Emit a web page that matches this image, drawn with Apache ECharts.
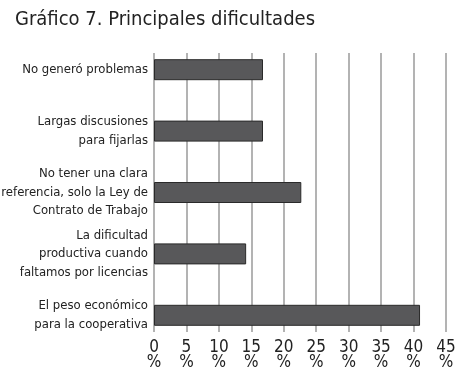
<!DOCTYPE html>
<html>
<head>
<meta charset="utf-8">
<script src="https://cdn.jsdelivr.net/npm/echarts@6/dist/echarts.min.js"></script>
<style>
  html, body { margin: 0; padding: 0; background: #fff; }
  #main { width: 475px; height: 376px; }
</style>
</head>
<body>
<div id="main"></div>
<script>
// categorias de arriba hacia abajo
var categories = [
  'No generó problemas',
  'Largas discusiones\npara fijarlas',
  'No tener una clara\nreferencia, solo la Ley de\nContrato de Trabajo',
  'La dificultad\nproductiva cuando\nfaltamos por licencias',
  'El peso económico\npara la cooperativa'
];
var values = [16.8, 16.8, 22.7, 14.2, 41.0];
var tickLabels = ['0', '5', '10', '15', '20', '25', '30', '35', '40', '45'];

var fontName = '"DejaVu Sans Condensed", "Liberation Sans Narrow", sans-serif';

var chart = echarts.init(document.getElementById('main'));
var option = {
  animation: false,
  title: {
    text: 'Gráfico 7. Principales dificultades',
    left: 10,
    top: 5,
    textStyle: { fontFamily: fontName, fontSize: 20, fontWeight: 'normal', color: '#222' }
  },
  grid: [
    // barras
    { left: 154, right: 29, top: 39, bottom: 30, outerBoundsMode: 'none', containLabel: false },
    // lineas verticales y etiquetas del eje
    { left: 154, right: 29, top: 53, bottom: 44, outerBoundsMode: 'none', containLabel: false }
  ],
  xAxis: [
    { gridIndex: 0, type: 'value', min: 0, max: 45, interval: 5, show: false },
    {
      gridIndex: 1, type: 'value', min: 0, max: 45, interval: 5,
      axisLine: { show: false },
      axisTick: { show: false },
      splitLine: { show: true, lineStyle: { color: '#9a9a9a', width: 1.5 } },
      axisLabel: {
        margin: 8,
        fontFamily: fontName, fontSize: 17, lineHeight: 15, color: '#222',
        formatter: function (v) { return tickLabels[v / 5] + '\n%'; }
      }
    }
  ],
  yAxis: [
    {
      gridIndex: 0, type: 'category', data: categories, inverse: true,
      axisLine: { show: false },
      axisTick: { show: false },
      axisLabel: {
        margin: 6,
        fontFamily: fontName, fontSize: 13, lineHeight: 18.5, color: '#222', align: 'right'
      }
    },
    { gridIndex: 1, type: 'value', min: 0, max: 1, show: false }
  ],
  series: [
    {
      type: 'bar',
      xAxisIndex: 0, yAxisIndex: 0,
      data: values,
      barWidth: 21,
      itemStyle: { color: '#58585a', borderColor: '#2a2a2a', borderWidth: 1 }
    }
  ]
};
chart.setOption(option);
</script>
</body>
</html>
